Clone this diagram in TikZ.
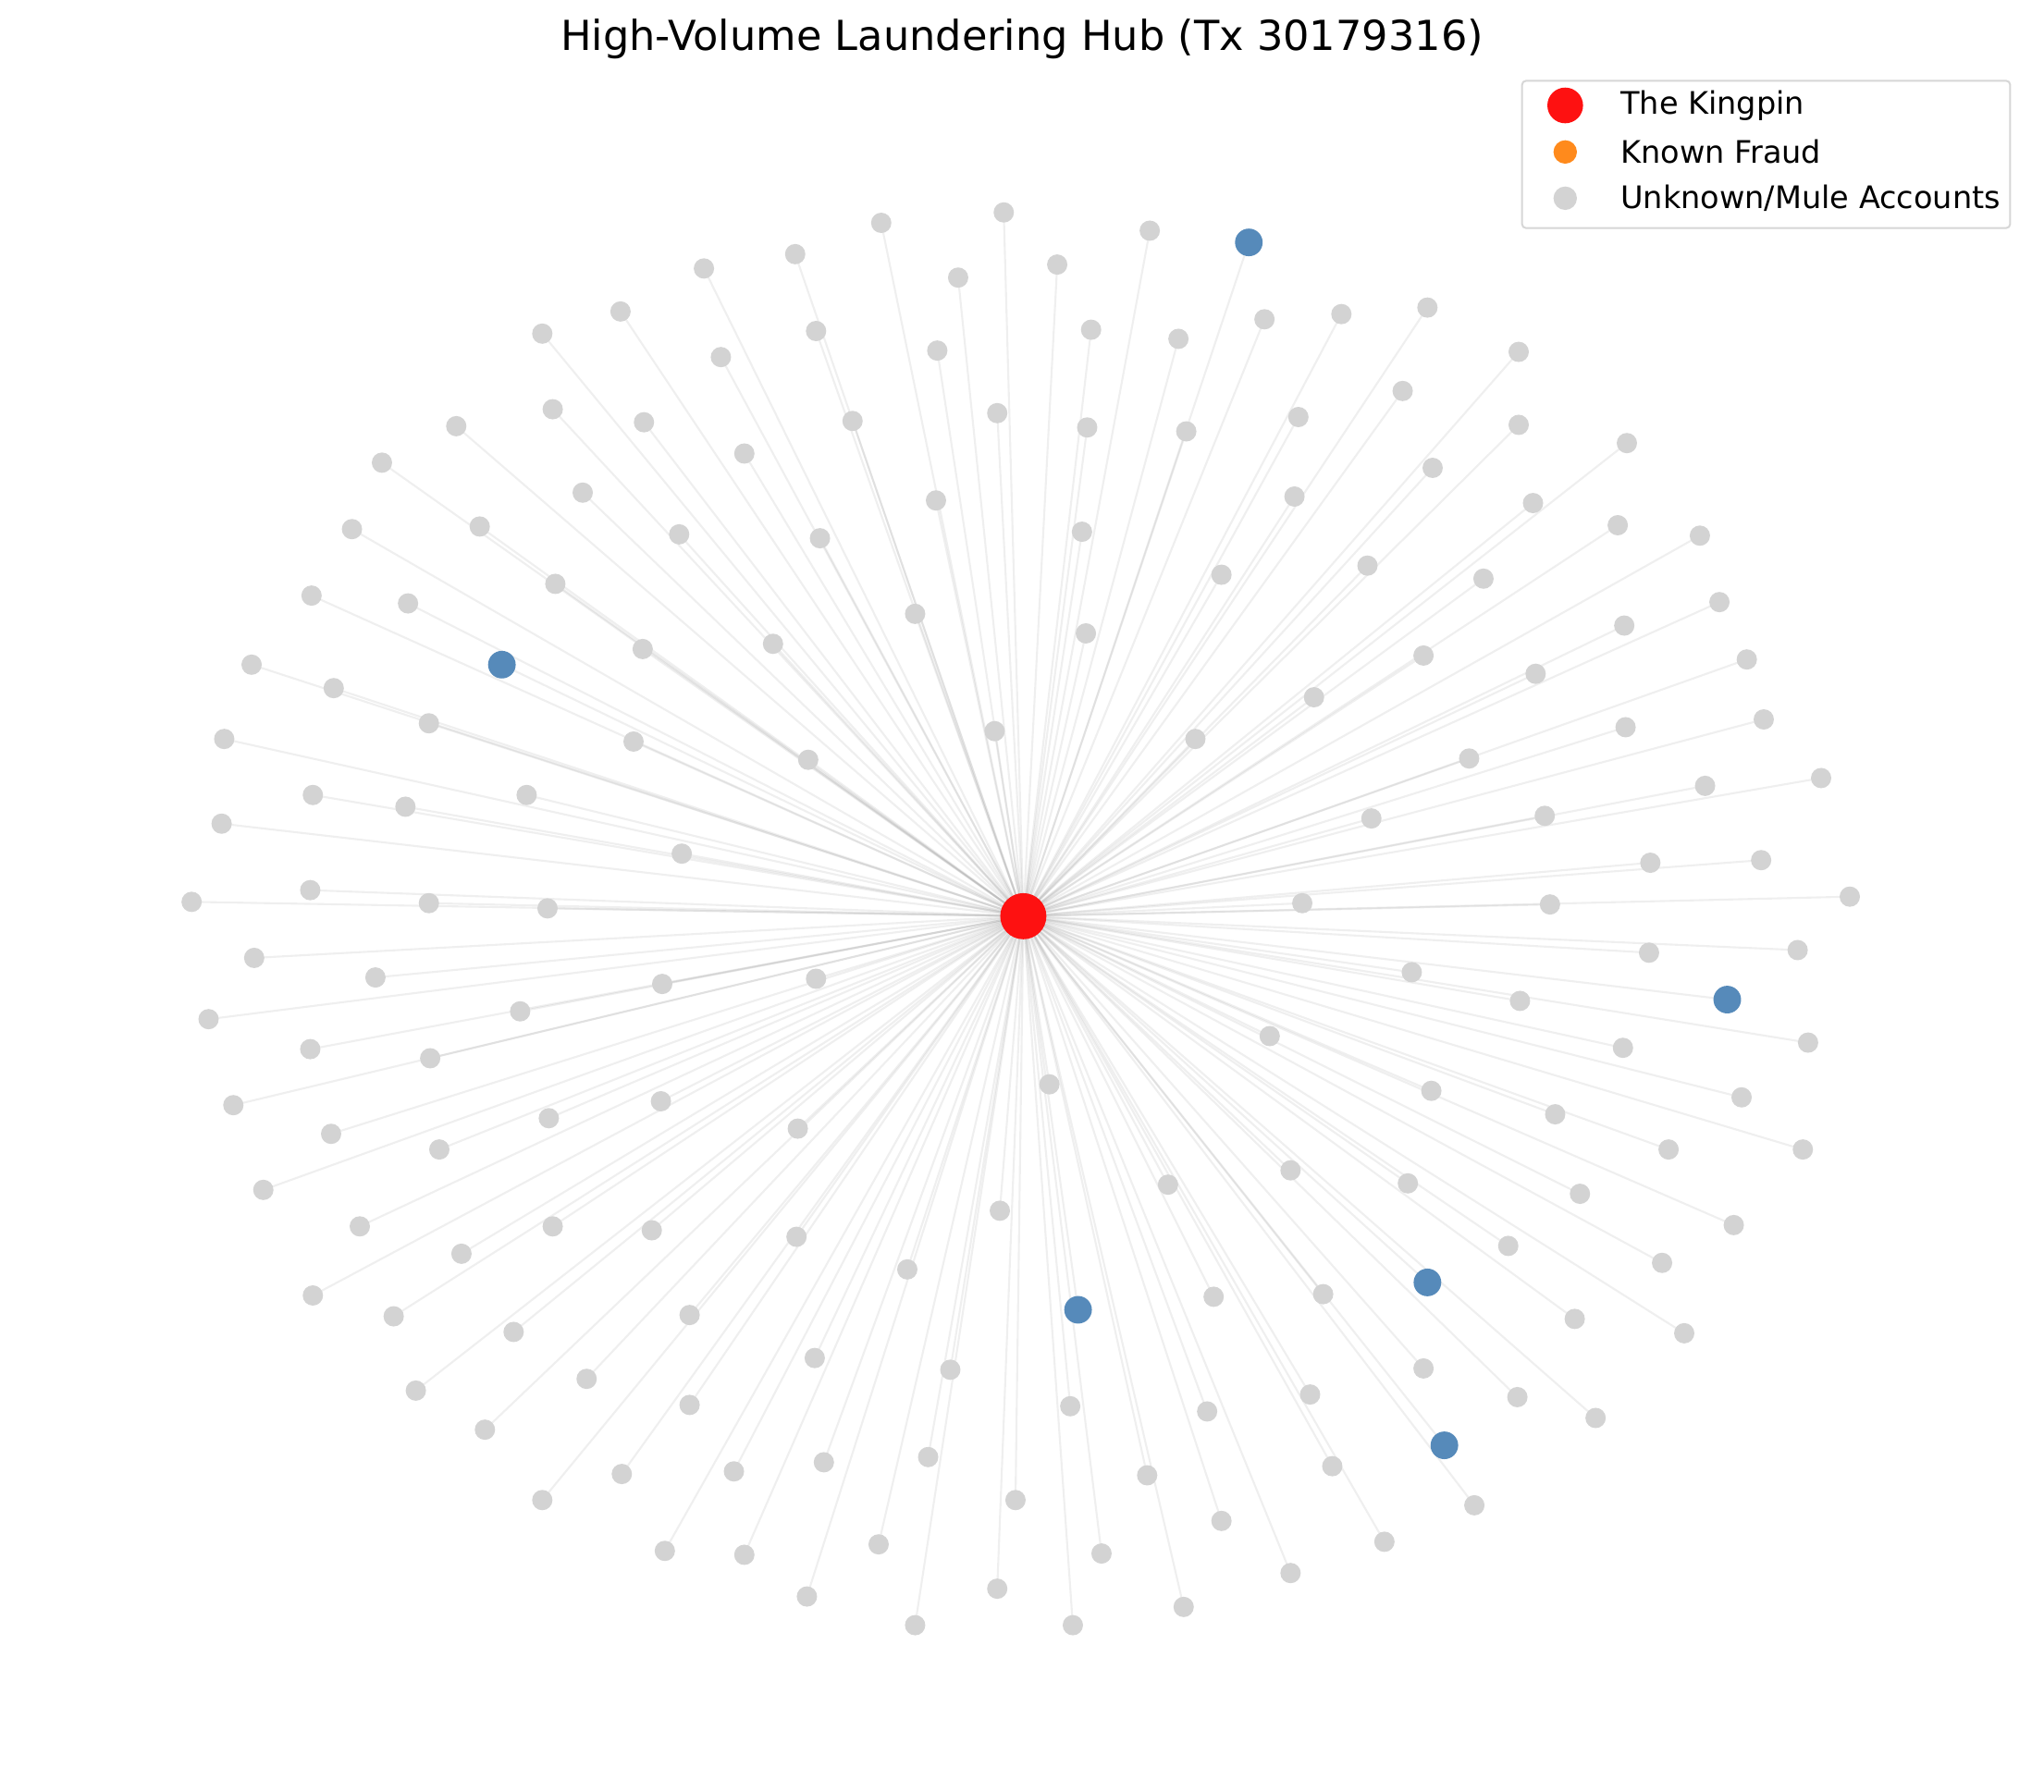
\documentclass[tikz,border=0pt]{standalone}
\usepackage{fontspec}
\setmainfont{DejaVu Sans}
\usetikzlibrary{backgrounds}
\definecolor{kingred}{RGB}{254,17,17}
\definecolor{fraudorange}{RGB}{255,138,28}
\definecolor{mulegray}{RGB}{211,211,211}
\definecolor{blueacct}{RGB}{86,138,186}
\definecolor{edgegray}{RGB}{128,128,128}
\definecolor{legframe}{RGB}{214,214,214}
\tikzset{
  dot/.style={circle,inner sep=0pt,outer sep=0pt,draw=none},
  mule/.style={dot,fill=mulegray,minimum size=15.6pt},
  blueacc/.style={dot,fill=blueacct,minimum size=21.2pt},
  hubnode/.style={dot,fill=kingred,minimum size=35.4pt},
  link/.style={draw=edgegray,draw opacity=0.13,line width=1.5pt},
  legtext/.style={anchor=west,inner sep=0pt,font=\fontsize{23.8}{28}\selectfont},
}
\begin{document}
\begin{tikzpicture}[x=1pt,y=-1pt]
\useasboundingbox (0,0) rectangle (1568,1375);
\node[anchor=base,inner sep=0pt,font=\fontsize{31.7}{36}\selectfont] (title) at (784,39) {High-Volume Laundering Hub (Tx 30179316)};
\node[hubnode] (hub) at (785,703) {};
\foreach [count=\i] \x/\y in {770/163, 676/171, 882/177, 610/195, 540/206, 811/203, 735/213, 970/245, 1029/241, 1095/236, 476/239, 416/256, 626/254, 837/253, 719/269, 553/274, 904/260, 1165/270, 1076/300, 350/327, 424/314, 494/324, 654/323, 765/317, 834/328, 910/331, 996/320, 1165/326, 1248/340, 293/355, 571/348, 1099/359, 447/378, 718/384, 993/381, 1176/386, 270/406, 368/404, 521/410, 629/413, 830/408, 1241/403, 1304/411, 426/448, 937/441, 1049/434, 1138/444, 239/457, 313/463, 702/471, 833/486, 1319/462, 1246/480, 593/494, 493/498, 1092/503, 193/510, 256/528, 1178/517, 1008/535, 1340/506, 329/555, 172/567, 486/569, 763/561, 917/567, 1247/558, 1353/552, 620/583, 1127/582, 1397/597, 240/610, 404/610, 311/619, 1308/603, 1185/626, 1052/628, 170/632, 523/655, 1266/662, 1351/660, 147/692, 238/683, 329/693, 420/697, 999/693, 1189/694, 1419/688, 1265/731, 1379/729, 195/735, 288/750, 508/755, 626/751, 1083/746, 1166/768, 399/776, 160/782, 238/805, 974/795, 1245/804, 1387/800, 330/812, 805/832, 1098/837, 1336/842, 179/848, 507/845, 421/858, 1193/855, 612/866, 254/870, 1280/882, 1383/882, 337/882, 896/909, 990/898, 1080/908, 1212/916, 202/913, 767/929, 1330/940, 276/941, 424/941, 500/944, 611/949, 1157/956, 354/962, 1275/969, 696/974, 931/995, 1015/993, 240/994, 302/1010, 529/1009, 1208/1012, 1292/1023, 394/1022, 625/1042, 729/1051, 1092/1050, 450/1058, 319/1067, 821/1079, 1005/1070, 1164/1072, 529/1078, 926/1083, 1224/1088, 372/1097, 712/1118, 632/1122, 563/1129, 477/1131, 880/1132, 1022/1125, 416/1151, 779/1151, 1131/1155, 937/1167, 1062/1183, 674/1185, 510/1190, 571/1193, 845/1192, 990/1207, 765/1219, 619/1225, 908/1233, 702/1247, 823/1247} {
  \node[mule] (m\i) at (\x,\y) {};
  \begin{pgfonlayer}{background}
    \draw[link] (hub.center) -- (m\i.center);
  \end{pgfonlayer}
}
\foreach [count=\i] \x/\y in {958/186, 385/510, 1325/767, 1095/984, 827/1005, 1108/1109} {
  \node[blueacc] (b\i) at (\x,\y) {};
  \begin{pgfonlayer}{background}
    \draw[link] (hub.center) -- (b\i.center);
  \end{pgfonlayer}
}
% legend
\draw[draw=legframe,line width=1.4pt,fill=white,rounded corners=3pt] (1167.6,62) rectangle (1542,175);
\node[dot,fill=kingred,minimum size=27.4pt] (lk) at (1200.7,80.9) {};
\node[dot,fill=fraudorange,minimum size=18pt] (lf) at (1200.7,116.6) {};
\node[dot,fill=mulegray,minimum size=18pt] (lm) at (1200.7,152.1) {};
\node[legtext] (tk) at (1243,80.9) {The Kingpin};
\node[legtext] (tf) at (1243,116.6) {Known Fraud};
\node[legtext] (tm) at (1243,152.1) {Unknown/Mule Accounts};
\end{tikzpicture}
\end{document}
